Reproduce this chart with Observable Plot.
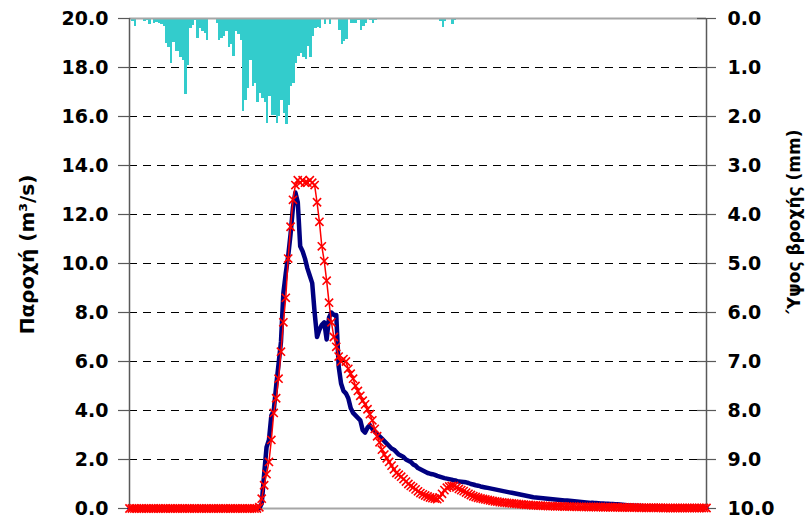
<!DOCTYPE html>
<html>
<head>
<meta charset="utf-8">
<script src="https://cdn.jsdelivr.net/npm/d3@7"></script>
<script src="https://cdn.jsdelivr.net/npm/@observablehq/plot@0.6"></script>
<style>
  html, body { margin: 0; padding: 0; background: #fff; }
  #chart { width: 809px; height: 520px; }
</style>
</head>
<body>
<div id="chart"></div>
<script>
// Observed discharge (m3/s), one value per time step (index 0..240)
const observed = [
  0,0,0,0,0,0,0,0,0,0,
  0,0,0,0,0,0,0,0,0,0,
  0,0,0,0,0,0,0,0,0,0,
  0,0,0,0,0,0,0,0,0,0,
  0,0,0,0,0,0,0,0,0,0,
  0,0,0,0,0,0.2,1.4,2.5,2.8,3.8,
  4.0,5.0,5.9,6.8,8.8,9.6,10.3,11.2,12.3,12.9,
  12.5,10.7,10.5,10.2,9.8,9.5,9.2,8.0,7.0,7.3,
  7.5,7.6,6.9,7.8,8.0,7.9,7.9,5.8,5.1,4.8,
  4.7,4.5,4.1,3.9,3.8,3.7,3.6,3.2,3.1,3.3,
  3.4,3.25,3.15,3.05,2.95,2.85,2.75,2.65,2.55,2.45,
  2.4,2.3,2.2,2.15,2.1,2.0,1.95,1.9,1.8,1.75,
  1.65,1.6,1.55,1.5,1.45,1.42,1.4,1.37,1.33,1.3,
  1.27,1.24,1.22,1.2,1.18,1.15,1.13,1.1,1.09,1.08,
  1.07,1.04,1.0,0.98,0.95,0.93,0.9,0.88,0.86,0.84,
  0.82,0.8,0.78,0.76,0.74,0.72,0.7,0.68,0.66,0.64,
  0.62,0.6,0.58,0.56,0.54,0.52,0.5,0.48,0.46,0.45,
  0.44,0.43,0.42,0.41,0.4,0.39,0.38,0.37,0.36,0.35,
  0.34,0.33,0.33,0.32,0.31,0.3,0.29,0.28,0.27,0.26,
  0.25,0.24,0.23,0.23,0.22,0.21,0.2,0.2,0.19,0.19,
  0.18,0.18,0.17,0.17,0.16,0.15,0.14,0.13,0.12,0.12,
  0.11,0.11,0.1,0.1,0.09,0.09,0.08,0.08,0.08,0.07,
  0.07,0.07,0.06,0.06,0.06,0.05,0.05,0.05,0.05,0.04,
  0.04,0.04,0.04,0.04,0.03,0.03,0.03,0.03,0.03,0.03,
  0.03
];

// Simulated discharge (m3/s), same time steps
const simulated = [
  0,0,0,0,0,0,0,0,0,0,
  0,0,0,0,0,0,0,0,0,0,
  0,0,0,0,0,0,0,0,0,0,
  0,0,0,0,0,0,0,0,0,0,
  0,0,0,0,0,0,0,0,0,0,
  0,0,0,0,0.05,0.4,0.95,1.4,1.9,2.8,
  3.9,4.5,5.3,6.4,7.6,8.6,10.2,11.5,12.6,13.2,
  13.4,13.3,13.4,13.3,13.3,13.4,13.3,13.2,12.5,11.7,
  10.7,10.1,9.3,8.4,7.6,7.0,6.6,6.2,6.0,6.1,
  6.0,5.7,5.5,5.3,5.0,4.8,4.6,4.4,4.25,4.05,
  3.85,3.6,3.25,2.95,2.7,2.4,2.2,2.05,1.9,1.75,
  1.6,1.45,1.38,1.3,1.2,1.1,1.0,0.92,0.86,0.78,
  0.7,0.63,0.58,0.53,0.49,0.45,0.42,0.4,0.38,0.45,
  0.6,0.75,0.85,0.9,0.92,0.92,0.86,0.8,0.75,0.71,
  0.65,0.6,0.55,0.5,0.47,0.44,0.41,0.39,0.37,0.35,
  0.33,0.31,0.29,0.28,0.26,0.25,0.24,0.23,0.22,0.21,
  0.2,0.19,0.18,0.17,0.16,0.15,0.15,0.14,0.13,0.13,
  0.12,0.12,0.11,0.11,0.1,0.1,0.1,0.09,0.09,0.09,
  0.09,0.08,0.08,0.08,0.08,0.08,0.07,0.07,0.07,0.07,
  0.07,0.06,0.06,0.06,0.06,0.06,0.06,0.05,0.05,0.05,
  0.05,0.05,0.05,0.05,0.04,0.04,0.04,0.04,0.04,0.04,
  0.04,0.04,0.03,0.03,0.03,0.03,0.03,0.03,0.03,0.03,
  0.03,0.03,0.02,0.02,0.02,0.02,0.02,0.02,0.02,0.02,
  0.02,0.02,0.02,0.02,0.02,0.02,0.02,0.02,0.02,0.02,
  0.02
];

// Rainfall depth (mm) per time step (index 0..135), hanging from the top
const rainfall = [
  0,0.07,0.17,0,0,0,0.07,0.05,0.12,0.03,
  0.1,0.08,0.1,0.12,0.17,0.5,0.6,0.92,0.48,0.67,
  0.67,0.8,0.85,1.56,0.95,0.2,0.14,0.05,0.4,0.2,
  0.27,0.3,0.44,0,0,0,0.1,0.44,0.4,0.37,
  0.27,0.6,0.53,0.78,0.27,0.33,0.44,1.9,1.67,1.43,
  0.85,1.39,1.33,1.71,1.53,1.63,1.71,2.14,1.6,1.97,
  1.97,2.14,2.0,1.67,1.94,2.16,1.77,1.39,1.33,0.92,
  0.78,0.71,0.8,0.83,0.58,0.8,0.37,0.2,0.19,0.2,
  0.03,0.12,0,0.12,0.02,0.02,0,0.24,0.53,0.46,
  0.42,0,0.1,0.1,0.1,0.05,0.24,0.17,0.1,0,
  0.05,0.1,0.04,0,0,0,0,0,0,0,
  0,0,0,0,0,0,0,0,0,0,
  0,0,0,0,0,0,0,0,0,0.07,
  0.19,0.07,0,0,0.12,0.04
];

const flowTicks = [0, 2, 4, 6, 8, 10, 12, 14, 16, 18, 20];
const rainTicks = [0, 1, 2, 3, 4, 5, 6, 7, 8, 9, 10];
const flowTitle = "Παροχή (m³/s)";
const rainTitle = "Ύψος βροχής (mm)";

const obsData = observed.map((q, i) => ({t: i, q}));
const simData = simulated.map((q, i) => ({t: i, q}));
const rainData = rainfall.map((r, i) => ({t: i, r})).filter(d => d.r > 0);

// The rainfall axis shares the frame: 0 mm at the top (flow 20), 10 mm at the bottom (flow 0)
const rainToFlow = r => 20 - 2 * r;
const lastStep = observed.length - 1;

const FONT = "DejaVu Sans";
const axisStyle = {label: null, fontSize: 19, fontWeight: "bold", fill: "#000", stroke: "#595959", strokeWidth: 1.2};

const chart = Plot.plot({
  width: 809,
  height: 520,
  marginLeft: 129,
  marginRight: 103,
  marginTop: 18,
  marginBottom: 12,
  style: {fontFamily: FONT, background: "#fff", overflow: "visible"},
  x: {domain: [0, lastStep], axis: null},
  y: {domain: [0, 20], axis: null},
  marks: [
    Plot.ruleY(flowTicks.filter(d => d > 0 && d < 20), {stroke: "#000", strokeWidth: 1, strokeDasharray: "8,6"}),
    Plot.rect(rainData, {x1: "t", x2: d => d.t + 1, y1: d => 20, y2: d => rainToFlow(d.r), fill: "#33CCCC", shapeRendering: "crispEdges"}),
    Plot.ruleY([20], {stroke: "#a6a6a6", strokeWidth: 2}),
    Plot.ruleY([0], {stroke: "#a6a6a6", strokeWidth: 2}),
    Plot.ruleX([0], {stroke: "#595959", strokeWidth: 1.5}),
    Plot.ruleX([lastStep], {stroke: "#595959", strokeWidth: 1.5}),
    Plot.axisY(flowTicks, {anchor: "left", tickSize: 11, tickPadding: 10, tickFormat: d => d.toFixed(1), ...axisStyle}),
    Plot.axisY(rainTicks.map(rainToFlow), {anchor: "right", tickSize: 9, tickPadding: 12, tickFormat: d => ((20 - d) / 2).toFixed(1), ...axisStyle}),
    Plot.axisY(rainTicks.map(rainToFlow), {anchor: "right", tickSize: 10, dx: -10, tickFormat: () => "", ...axisStyle}),
    Plot.text([flowTitle], {text: d => d, frameAnchor: "left", textAnchor: "middle", rotate: -90, dx: -102, dy: -9, fontSize: 20, fontWeight: "bold", fill: "#000"}),
    Plot.text([rainTitle], {text: d => d, frameAnchor: "right", textAnchor: "middle", rotate: -90, dx: 88, dy: -42, fontSize: 17, fontWeight: "bold", fill: "#000"}),
    Plot.line(obsData, {x: "t", y: "q", stroke: "#000080", strokeWidth: 4.5, strokeLinejoin: "round"}),
    Plot.line(simData, {x: "t", y: "q", stroke: "#ff0000", strokeWidth: 1.5}),
    Plot.dot(simData, {x: "t", y: "q", symbol: "times", r: 3.8, stroke: "#ff0000", strokeWidth: 1.6})
  ]
});

document.getElementById("chart").appendChild(chart);
</script>
</body>
</html>
